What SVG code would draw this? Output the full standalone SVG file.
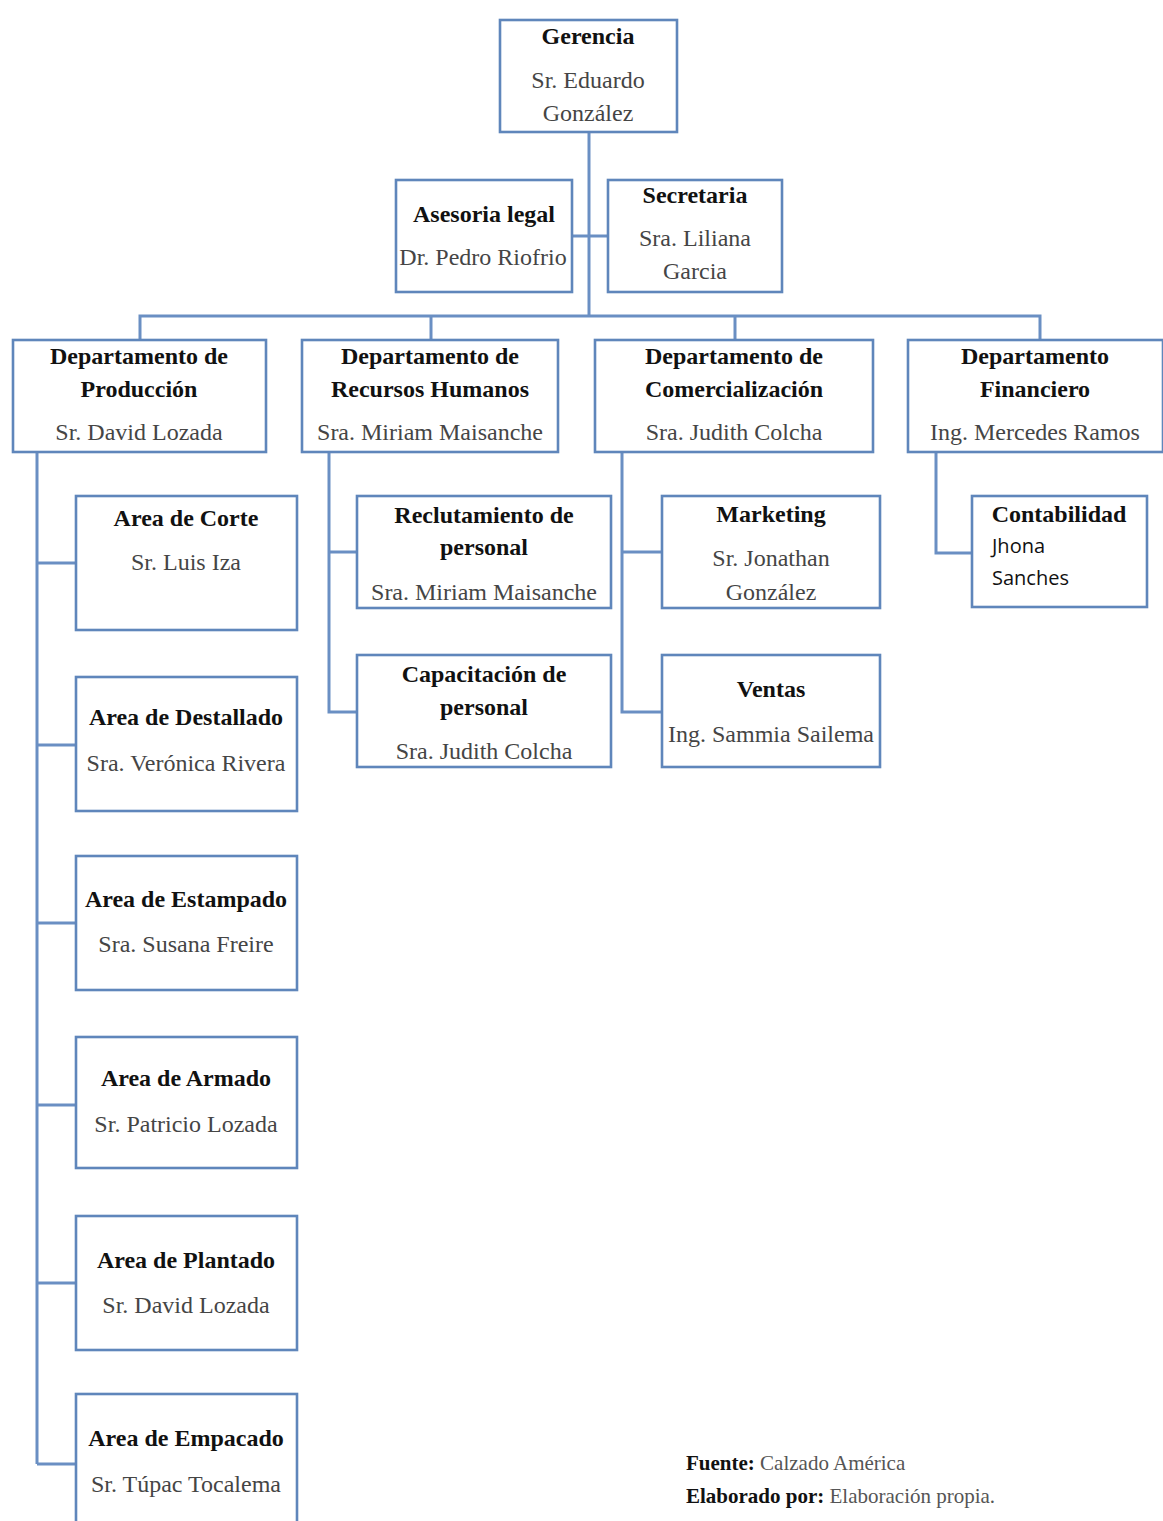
<svg xmlns="http://www.w3.org/2000/svg" width="1163" height="1521" viewBox="0 0 1163 1521">
  <style>
    .box { fill: #ffffff; stroke: #5f86bb; stroke-width: 2.6; }
    .link { fill: none; stroke: #6a8fc3; stroke-width: 3; }
    .t { font-family: "Liberation Serif", "Times New Roman", serif; font-weight: bold; font-size: 24px; fill: #111111; text-anchor: middle; }
    .n { font-family: "Liberation Serif", "Times New Roman", serif; font-size: 24px; fill: #454545; text-anchor: middle; }
    .s { font-family: "Open Sans", "Liberation Sans", sans-serif; font-size: 20px; fill: #111111; }
    .f { font-family: "Liberation Serif", "Times New Roman", serif; font-size: 21px; fill: #555555; }
    .fb { font-weight: bold; fill: #111111; }
  </style>
  <rect width="1163" height="1521" fill="#ffffff"/>

  <!-- connectors -->
  <g id="connectors">
    <path class="link" d="M589 132 V316"/>
    <path class="link" d="M572 236 H608"/>
    <path class="link" d="M140 340 V316 H1040 V340"/>
    <path class="link" d="M431 316 V340"/>
    <path class="link" d="M735 316 V340"/>
    <!-- produccion -->
    <path class="link" d="M37 452 V1464"/>
    <path class="link" d="M37 563 H76 M37 745 H76 M37 923 H76 M37 1105 H76 M37 1283 H76 M37 1464 H76"/>
    <!-- recursos humanos -->
    <path class="link" d="M329 452 V712 H357 M329 552 H357"/>
    <!-- comercializacion -->
    <path class="link" d="M622 452 V712 H662 M622 552 H662"/>
    <!-- financiero -->
    <path class="link" d="M936 452 V553 H972"/>
  </g>

  <g id="gerencia">
    <rect class="box" x="500" y="20" width="177" height="112"/>
    <text class="t" x="588" y="44">Gerencia</text>
    <text class="n" x="588" y="88">Sr. Eduardo</text>
    <text class="n" x="588" y="121">González</text>
  </g>

  <g id="asesoria">
    <rect class="box" x="396" y="180" width="176" height="112"/>
    <text class="t" x="484" y="222">Asesoria legal</text>
    <text class="n" x="483" y="265">Dr. Pedro Riofrio</text>
  </g>

  <g id="secretaria">
    <rect class="box" x="608" y="180" width="174" height="112"/>
    <text class="t" x="695" y="203">Secretaria</text>
    <text class="n" x="695" y="246">Sra. Liliana</text>
    <text class="n" x="695" y="279">Garcia</text>
  </g>

  <g id="dep-produccion">
    <rect class="box" x="13" y="340" width="253" height="112"/>
    <text class="t" x="139" y="364">Departamento de</text>
    <text class="t" x="139" y="397">Producción</text>
    <text class="n" x="139" y="440">Sr. David Lozada</text>
  </g>

  <g id="dep-rrhh">
    <rect class="box" x="302" y="340" width="256" height="112"/>
    <text class="t" x="430" y="364">Departamento de</text>
    <text class="t" x="430" y="397">Recursos Humanos</text>
    <text class="n" x="430" y="440">Sra. Miriam Maisanche</text>
  </g>

  <g id="dep-comercializacion">
    <rect class="box" x="595" y="340" width="278" height="112"/>
    <text class="t" x="734" y="364">Departamento de</text>
    <text class="t" x="734" y="397">Comercialización</text>
    <text class="n" x="734" y="440">Sra. Judith Colcha</text>
  </g>

  <g id="dep-financiero">
    <rect class="box" x="908" y="340" width="255" height="112"/>
    <text class="t" x="1035" y="364">Departamento</text>
    <text class="t" x="1035" y="397">Financiero</text>
    <text class="n" x="1035" y="440">Ing. Mercedes Ramos</text>
  </g>

  <g id="area-corte">
    <rect class="box" x="76" y="496" width="221" height="134"/>
    <text class="t" x="186" y="526">Area de Corte</text>
    <text class="n" x="186" y="570">Sr. Luis Iza</text>
  </g>

  <g id="area-destallado">
    <rect class="box" x="76" y="677" width="221" height="134"/>
    <text class="t" x="186" y="725">Area de Destallado</text>
    <text class="n" x="186" y="771">Sra. Verónica Rivera</text>
  </g>

  <g id="area-estampado">
    <rect class="box" x="76" y="856" width="221" height="134"/>
    <text class="t" x="186" y="907">Area de Estampado</text>
    <text class="n" x="186" y="952">Sra. Susana Freire</text>
  </g>

  <g id="area-armado">
    <rect class="box" x="76" y="1037" width="221" height="131"/>
    <text class="t" x="186" y="1086">Area de Armado</text>
    <text class="n" x="186" y="1132">Sr. Patricio Lozada</text>
  </g>

  <g id="area-plantado">
    <rect class="box" x="76" y="1216" width="221" height="134"/>
    <text class="t" x="186" y="1268">Area de Plantado</text>
    <text class="n" x="186" y="1313">Sr. David Lozada</text>
  </g>

  <g id="area-empacado">
    <rect class="box" x="76" y="1394" width="221" height="140"/>
    <text class="t" x="186" y="1446">Area de Empacado</text>
    <text class="n" x="186" y="1492">Sr. Túpac Tocalema</text>
  </g>

  <g id="reclutamiento">
    <rect class="box" x="357" y="496" width="254" height="112"/>
    <text class="t" x="484" y="523">Reclutamiento de</text>
    <text class="t" x="484" y="555">personal</text>
    <text class="n" x="484" y="600">Sra. Miriam Maisanche</text>
  </g>

  <g id="capacitacion">
    <rect class="box" x="357" y="655" width="254" height="112"/>
    <text class="t" x="484" y="682">Capacitación de</text>
    <text class="t" x="484" y="715">personal</text>
    <text class="n" x="484" y="759">Sra. Judith Colcha</text>
  </g>

  <g id="marketing">
    <rect class="box" x="662" y="496" width="218" height="112"/>
    <text class="t" x="771" y="522">Marketing</text>
    <text class="n" x="771" y="566">Sr. Jonathan</text>
    <text class="n" x="771" y="600">González</text>
  </g>

  <g id="ventas">
    <rect class="box" x="662" y="655" width="218" height="112"/>
    <text class="t" x="771" y="697">Ventas</text>
    <text class="n" x="771" y="742">Ing. Sammia Sailema</text>
  </g>

  <g id="contabilidad">
    <rect class="box" x="972" y="496" width="175" height="111"/>
    <text class="t" x="1059" y="522">Contabilidad</text>
    <text class="s" x="992" y="553">Jhona</text>
    <text class="s" x="992" y="585">Sanches</text>
  </g>

  <g id="footer">
    <text class="f" x="686" y="1470"><tspan class="fb">Fuente:</tspan> Calzado América</text>
    <text class="f" x="686" y="1503"><tspan class="fb">Elaborado por:</tspan> Elaboración propia.</text>
  </g>
</svg>
